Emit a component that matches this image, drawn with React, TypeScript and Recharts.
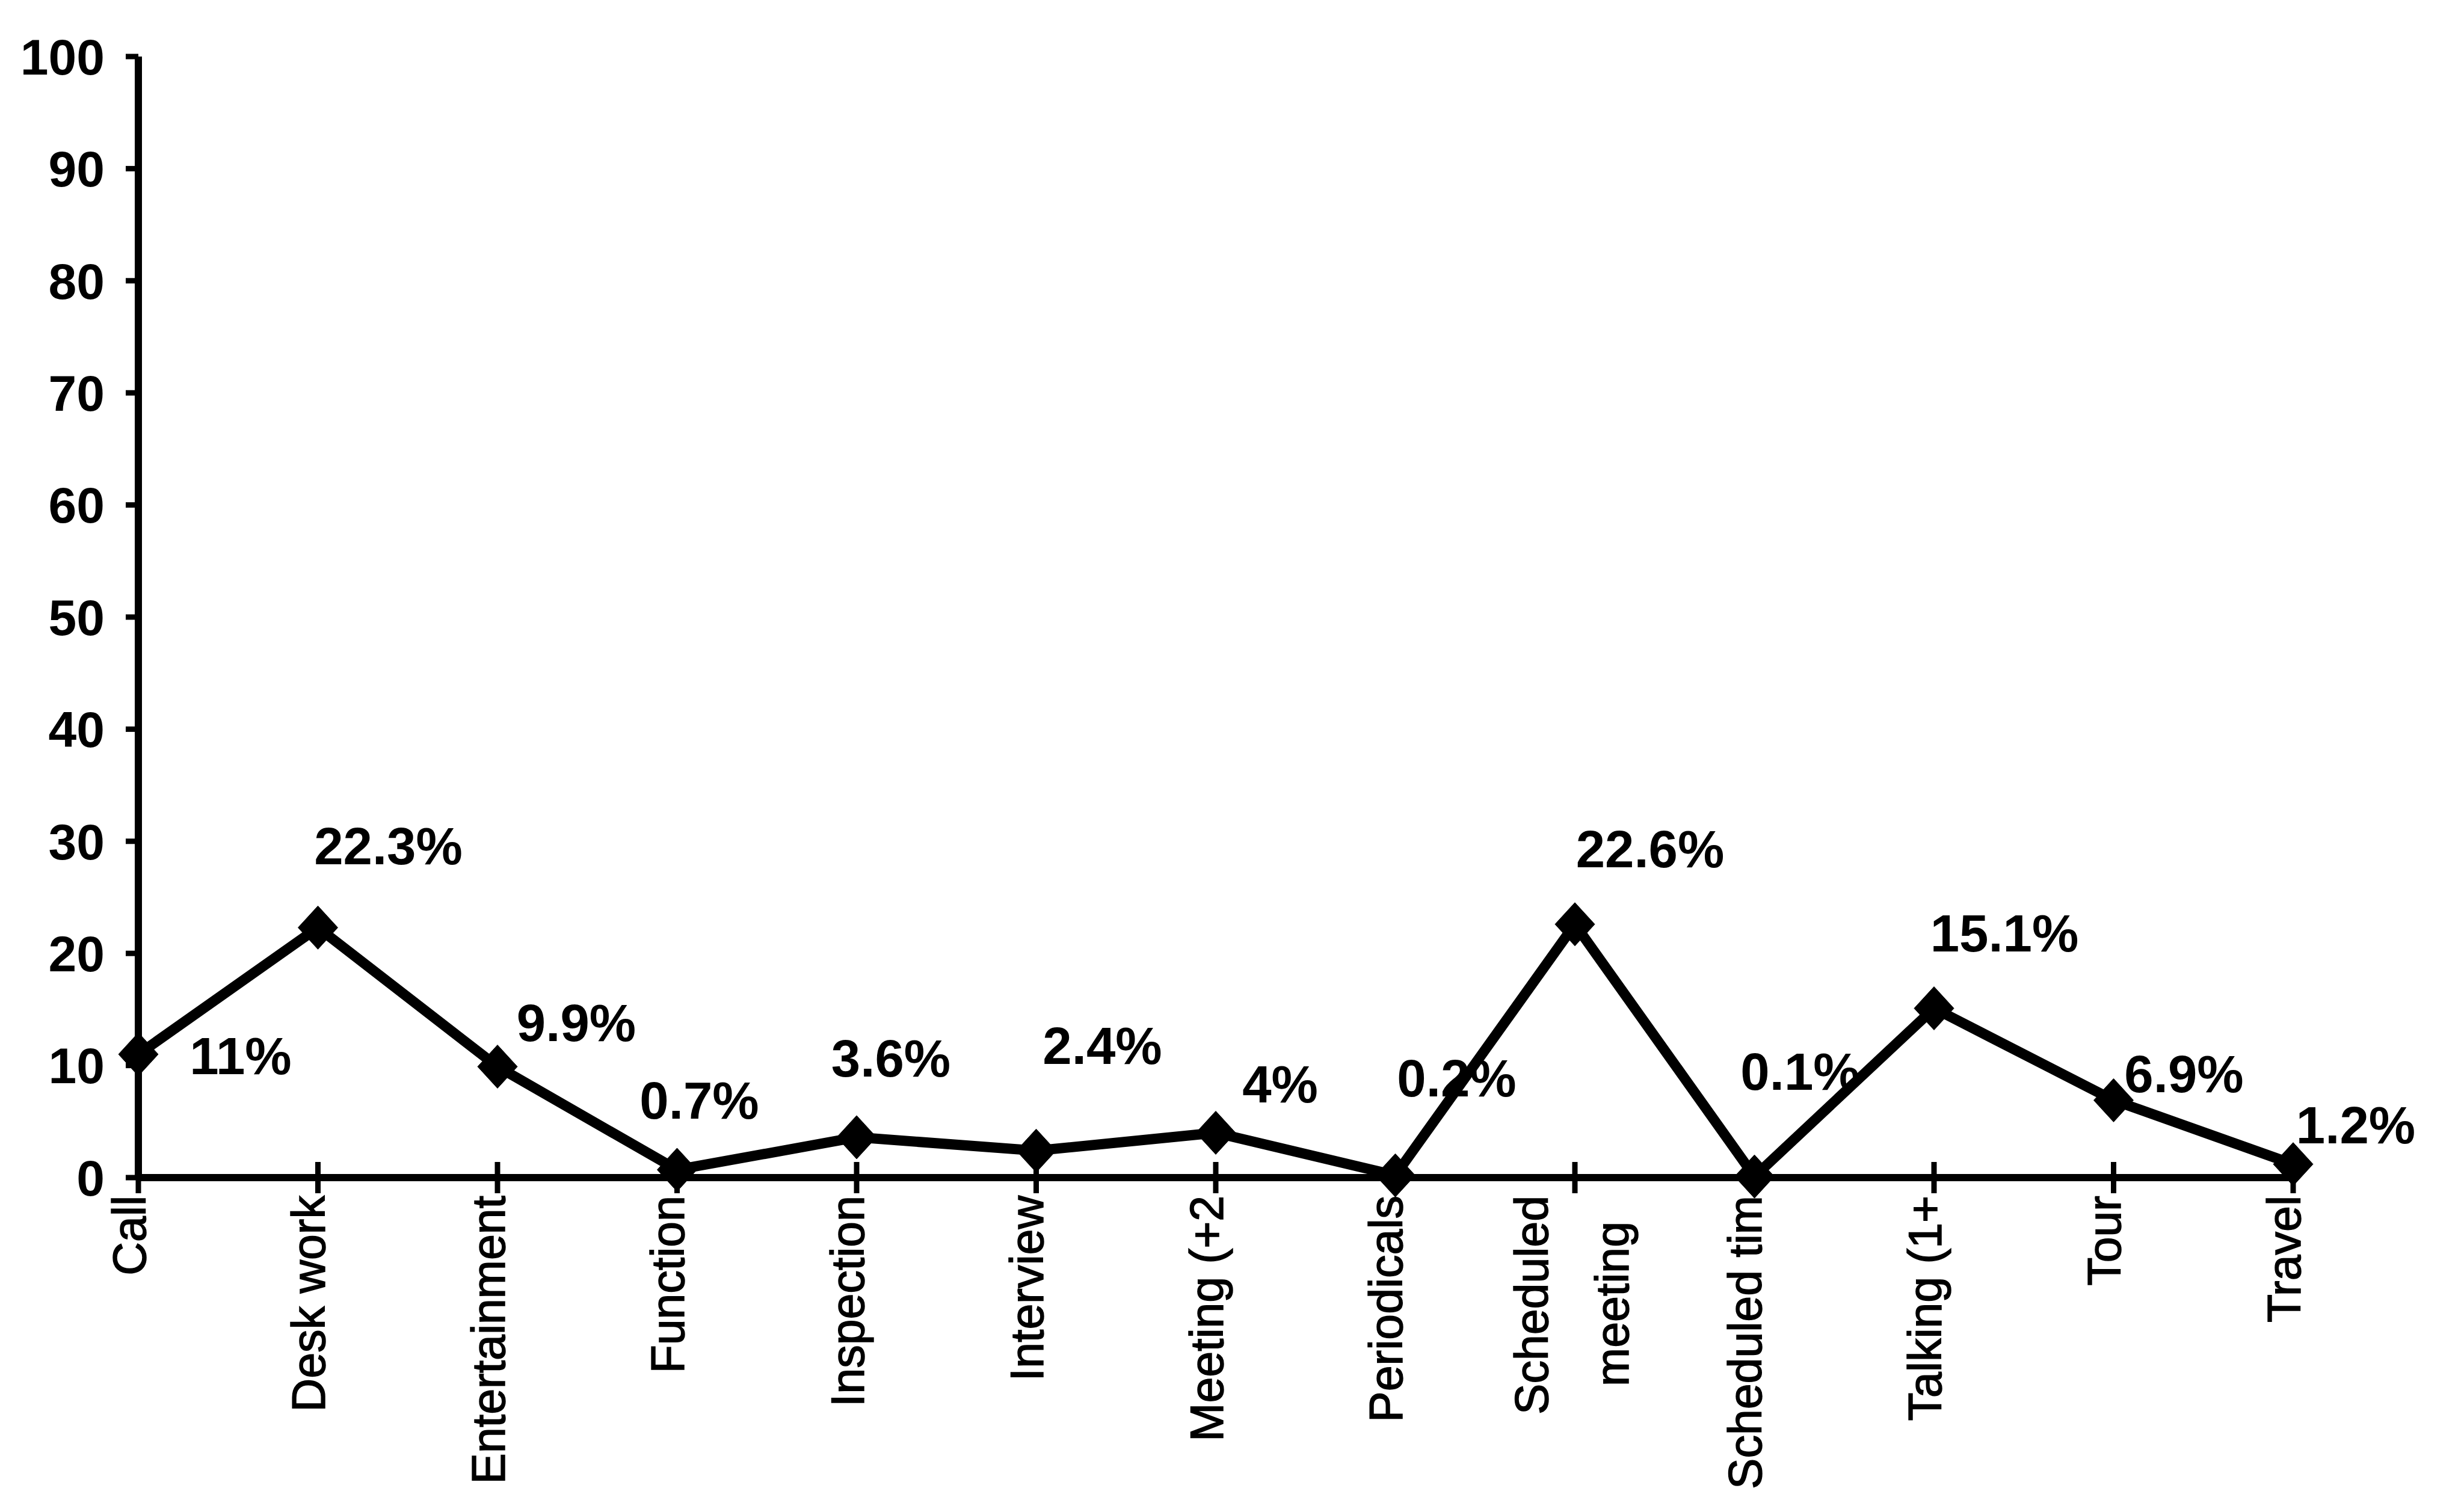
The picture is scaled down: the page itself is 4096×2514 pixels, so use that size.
import { LineChart, Line, XAxis, YAxis, LabelList } from 'recharts';

const activities = [
  'Call',
  'Desk work',
  'Entertainment',
  'Function',
  'Inspection',
  'Interview',
  'Meeting (+2',
  'Periodicals',
  'Scheduled\nmeeting',
  'Scheduled tim',
  'Talking (1+',
  'Tour',
  'Travel',
];
const shares = [11, 22.3, 9.9, 0.7, 3.6, 2.4, 4, 0.2, 22.6, 0.1, 15.1, 6.9, 1.2];
const yTicks = [0, 10, 20, 30, 40, 50, 60, 70, 80, 90, 100];

// where each percentage label sits relative to its point (px)
const labelDx = [170, 117, 131, 37, 57, 110, 107, 102, 125, 76, 117, 117, 104];
const labelDy = [3, -136, -73, -115, -131, -175, -81, -162, -125, -175, -125, -44, -65];

const data = activities.map((name, i) => ({ name, share: shares[i] }));

const FONT = '"Liberation Sans", Arial, sans-serif';

const XTick = (props: any) => {
  const { x, y, payload } = props;
  const lines = String(payload.value).split('\n');
  return (
    <g>
      <line x1={x} x2={x} y1={y - 26} y2={y + 26} stroke="#000" strokeWidth={9} />
      {lines.length === 1 ? (
        <text
          transform={`translate(${x - 15},${y + 30}) rotate(-90)`}
          textAnchor="end"
          dy="0.35em"
          fontSize={77}
          fontFamily={FONT}
          fill="#000"
          stroke="#000"
          strokeWidth={1.5}
        >
          {lines[0]}
        </text>
      ) : (
        <>
          <text
            transform={`translate(${x - 72},${y + 30}) rotate(-90)`}
            textAnchor="end"
            dy="0.35em"
            fontSize={77}
            fontFamily={FONT}
            fill="#000"
            stroke="#000"
            strokeWidth={1.5}
          >
            {lines[0]}
          </text>
          <text
            transform={`translate(${x + 62},${y + 210}) rotate(-90)`}
            textAnchor="middle"
            dy="0.35em"
            fontSize={77}
            fontFamily={FONT}
            fill="#000"
            stroke="#000"
            strokeWidth={1.5}
          >
            {lines[1]}
          </text>
        </>
      )}
    </g>
  );
};

const Diamond = (props: any) => {
  const { cx, cy } = props;
  if (cx == null || cy == null) return null;
  const rx = 33;
  const ry = 36;
  return (
    <polygon
      points={`${cx},${cy - ry} ${cx + rx},${cy} ${cx},${cy + ry} ${cx - rx},${cy}`}
      fill="#000"
      stroke="#000"
    />
  );
};

const renderShare = (props: any) => {
  const { x, y, value, index } = props;
  return (
    <text
      x={x + labelDx[index]}
      y={y + labelDy[index]}
      textAnchor="middle"
      dominantBaseline="central"
      fontSize={87}
      fontWeight="bold"
      fontFamily={FONT}
      fill="#000"
    >
      {`${value}%`}
    </text>
  );
};

export default function App() {
  return (
    <div style={{ position: 'absolute', left: 0, top: 0, width: 4096, height: 2514, background: '#fff' }}>
      <LineChart width={4096} height={2514} data={data} margin={{ top: 94, right: 284, bottom: 56, left: 30 }}>
        <XAxis
          dataKey="name"
          interval={0}
          tickLine={false}
          tickSize={0}
          tickMargin={0}
          height={500}
          axisLine={{ stroke: '#000', strokeWidth: 12 }}
          tick={(p: any) => <XTick {...p} />}
        />
        <YAxis
          domain={[0, 100]}
          ticks={yTicks}
          width={200}
          tickSize={21}
          tickMargin={35}
          axisLine={{ stroke: '#000', strokeWidth: 12 }}
          tickLine={{ stroke: '#000', strokeWidth: 9 }}
          tick={{ fill: '#000', fontSize: 84, fontWeight: 'bold', fontFamily: FONT }}
        />
        <Line
          type="linear"
          dataKey="share"
          stroke="#000"
          strokeWidth={17}
          dot={(p: any) => <Diamond key={p.index} {...p} />}
          activeDot={false}
          isAnimationActive={false}
        >
          <LabelList dataKey="share" content={renderShare} />
        </Line>
      </LineChart>
    </div>
  );
}
